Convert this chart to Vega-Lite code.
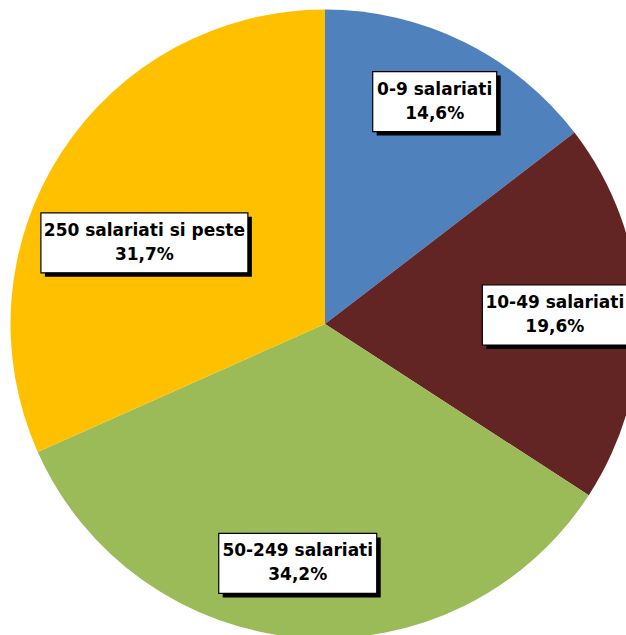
{
  "$schema": "https://vega.github.io/schema/vega-lite/v6.json",
  "width": 650,
  "height": 648,
  "padding": 0,
  "autosize": {"type": "none"},
  "background": "white",
  "view": {"stroke": null},
  "data": {
    "values": [
      {"group": "0-9 salariati", "pct": 14.6},
      {"group": "10-49 salariati", "pct": 19.6},
      {"group": "50-249 salariati", "pct": 34.2},
      {"group": "250 salariati si peste", "pct": 31.7}
    ]
  },
  "transform": [
    {"window": [{"op": "sum", "field": "pct", "as": "cum"}], "frame": [null, 0]},
    {"joinaggregate": [{"op": "sum", "field": "pct", "as": "total"}]},
    {"calculate": "datum.group == '0-9 salariati' ? 248 : datum.group == '10-49 salariati' ? 230 : datum.group == '50-249 salariati' ? 241 : 198", "as": "lr"},
    {"calculate": "datum.group == '50-249 salariati' ? 2 : datum.group == '250 salariati si peste' ? -8.8 : 0", "as": "dang"},
    {"calculate": "2*PI*(datum.cum - datum.pct/2)/datum.total + datum.dang*PI/180", "as": "ang"},
    {"calculate": "datum.lr*sin(datum.ang)", "as": "lx"},
    {"calculate": "datum.lr*cos(datum.ang)", "as": "ly"},
    {"calculate": "datum.group == '0-9 salariati' ? 62 : datum.group == '10-49 salariati' ? 72.5 : datum.group == '50-249 salariati' ? 79 : 103.5", "as": "hw"},
    {"calculate": "datum.lx - datum.hw", "as": "bx1"},
    {"calculate": "datum.lx + datum.hw", "as": "bx2"},
    {"calculate": "datum.ly - 30", "as": "by1"},
    {"calculate": "datum.ly + 30", "as": "by2"},
    {"calculate": "datum.bx1 + 4", "as": "sx1"},
    {"calculate": "datum.bx2 + 4", "as": "sx2"},
    {"calculate": "datum.by1 - 4", "as": "sy1"},
    {"calculate": "datum.by2 - 4", "as": "sy2"},
    {"calculate": "[datum.group, replace(format(datum.pct, '.1f'), '.', ',') + '%']", "as": "lines"}
  ],
  "layer": [
    {
      "mark": {"type": "arc", "outerRadius": 314.5},
      "encoding": {
        "theta": {"field": "pct", "type": "quantitative", "stack": true},
        "order": {"field": "cum", "type": "quantitative"},
        "color": {
          "field": "group",
          "type": "nominal",
          "legend": null,
          "scale": {
            "domain": ["0-9 salariati", "10-49 salariati", "50-249 salariati", "250 salariati si peste"],
            "range": ["#4F81BD", "#632523", "#9BBB59", "#FFC000"]
          }
        }
      }
    },
    {
      "mark": {"type": "rect", "color": "#000000"},
      "encoding": {
        "x": {"field": "sx1", "type": "quantitative", "axis": null, "scale": {"domain": [-325, 325], "nice": false, "zero": false}},
        "x2": {"field": "sx2"},
        "y": {"field": "sy1", "type": "quantitative", "axis": null, "scale": {"domain": [-324, 324], "nice": false, "zero": false}},
        "y2": {"field": "sy2"}
      }
    },
    {
      "mark": {"type": "rect", "fill": "#FFFFFF", "stroke": "#000000", "strokeWidth": 1.2},
      "encoding": {
        "x": {"field": "bx1", "type": "quantitative"},
        "x2": {"field": "bx2"},
        "y": {"field": "by1", "type": "quantitative"},
        "y2": {"field": "by2"}
      }
    },
    {
      "mark": {"type": "text", "font": "DejaVu Sans", "fontWeight": "bold", "fontSize": 17, "lineHeight": 24, "align": "center", "baseline": "middle", "dy": -12, "color": "#000000"},
      "encoding": {
        "x": {"field": "lx", "type": "quantitative"},
        "y": {"field": "ly", "type": "quantitative"},
        "text": {"field": "lines"}
      }
    }
  ]
}
